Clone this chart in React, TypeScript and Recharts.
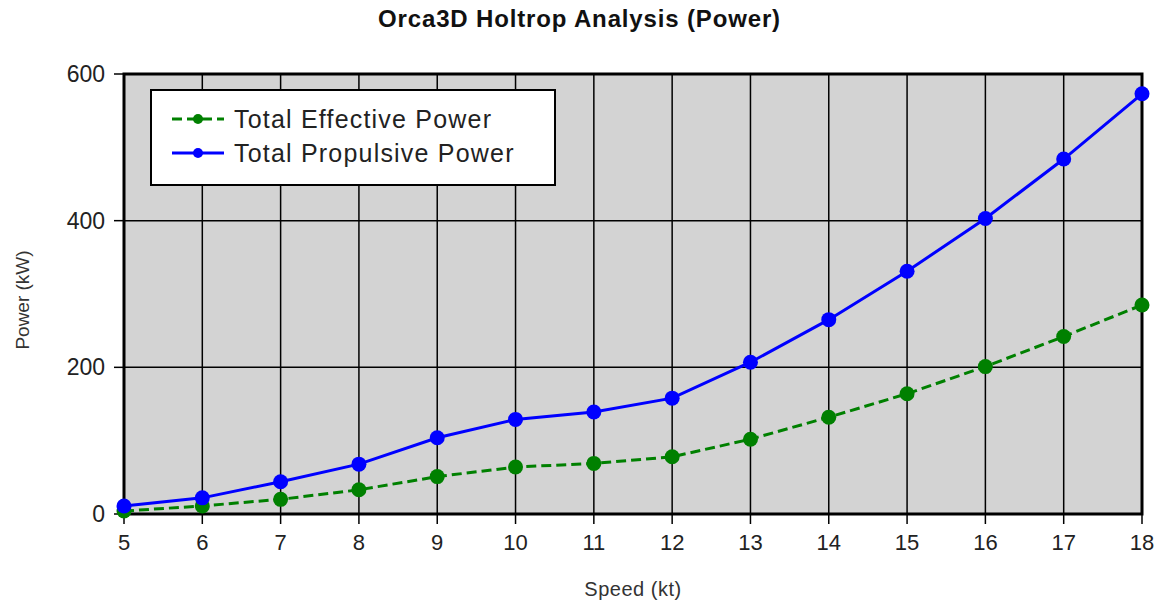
import {
  LineChart,
  Line,
  XAxis,
  YAxis,
  CartesianGrid,
  ReferenceArea,
} from "recharts";

const speeds = [5, 6, 7, 8, 9, 10, 11, 12, 13, 14, 15, 16, 17, 18];
const effectivePower = [4, 11, 20, 33, 51, 64, 69, 78, 102, 132, 164, 201, 242, 285];
const propulsivePower = [11, 22, 44, 68, 104, 129, 139, 158, 207, 265, 331, 403, 484, 573];
const yTicks = [0, 200, 400, 600];

const data = speeds.map((s, i) => ({
  speed: s,
  effective: effectivePower[i],
  propulsive: propulsivePower[i],
}));

const font = "'Liberation Sans', Arial, sans-serif";

// legend drawn as plain html so it doesn't push the plot area down
function LegendBox() {
  const rows = [
    { name: "Total Effective Power", color: "#008000", dash: "10 5" },
    { name: "Total Propulsive Power", color: "#0000ff", dash: undefined },
  ];
  return (
    <div
      style={{
        position: "absolute",
        left: 150,
        top: 89,
        width: 406,
        height: 97,
        background: "white",
        border: "2px solid #000",
        boxSizing: "border-box",
        paddingTop: 11,
        paddingLeft: 18,
        fontFamily: font,
      }}
    >
      {rows.map((r) => (
        <div
          key={r.name}
          style={{ display: "flex", alignItems: "center", height: 34 }}
        >
          <svg width={56} height={16}>
            <line
              x1={2}
              y1={8}
              x2={54}
              y2={8}
              stroke={r.color}
              strokeWidth={3}
              strokeDasharray={r.dash}
            />
            <circle cx={28} cy={8} r={5} fill={r.color} />
          </svg>
          <span
            style={{
              fontSize: 25,
              letterSpacing: 1.2,
              color: "#222",
              marginLeft: 8,
            }}
          >
            {r.name}
          </span>
        </div>
      ))}
    </div>
  );
}

export default function App() {
  return (
    <div
      style={{
        position: "absolute",
        left: 0,
        top: 0,
        width: 1165,
        height: 607,
        background: "white",
        fontFamily: font,
      }}
    >
      <div
        style={{
          position: "absolute",
          top: 5,
          left: 0,
          width: 1159,
          textAlign: "center",
          fontSize: 24,
          letterSpacing: 0.85,
          fontWeight: 700,
          color: "#111",
        }}
      >
        Orca3D Holtrop Analysis (Power)
      </div>
      <LineChart
        width={1165}
        height={607}
        data={data}
        margin={{ top: 74, right: 23, bottom: 53, left: 64 }}
      >
        <CartesianGrid
          stroke="#000"
          strokeWidth={1.5}
          fill="#d3d3d3"
          fillOpacity={1}
        />
        <XAxis
          dataKey="speed"
          type="number"
          domain={[5, 18]}
          ticks={speeds}
          interval={0}
          height={40}
          axisLine={false}
          tickLine={{ stroke: "#000", strokeWidth: 1.5 }}
          tickSize={10}
          tickMargin={10}
          tick={{ fill: "#222", fontSize: 22, fontFamily: font }}
          label={{
            value: "Speed (kt)",
            position: "bottom",
            offset: 28,
            fill: "#333",
            fontSize: 20,
            letterSpacing: 0.5,
            fontFamily: font,
          }}
        />
        <YAxis
          type="number"
          domain={[0, 600]}
          ticks={yTicks}
          width={60}
          axisLine={false}
          tickLine={{ stroke: "#000", strokeWidth: 1.5 }}
          tickSize={10}
          tickMargin={9}
          tick={{ fill: "#222", fontSize: 23, fontFamily: font }}
          label={{
            value: "Power (kW)",
            angle: -90,
            position: "insideLeft",
            offset: -42,
            dy: 6,
            fill: "#333",
            fontSize: 19,
            fontFamily: font,
            style: { textAnchor: "middle" },
          }}
        />
        <ReferenceArea
          x1={5}
          x2={18}
          y1={0}
          y2={600}
          fill="none"
          stroke="#000"
          strokeWidth={3}
        />
        <Line
          dataKey="effective"
          name="Total Effective Power"
          stroke="#008000"
          strokeWidth={3}
          strokeDasharray="10 5"
          dot={{ r: 7.5, fill: "#008000", stroke: "none" }}
          isAnimationActive={false}
        />
        <Line
          dataKey="propulsive"
          name="Total Propulsive Power"
          stroke="#0000ff"
          strokeWidth={3}
          dot={{ r: 7.5, fill: "#0000ff", stroke: "none" }}
          isAnimationActive={false}
        />
      </LineChart>
      <LegendBox />
    </div>
  );
}
